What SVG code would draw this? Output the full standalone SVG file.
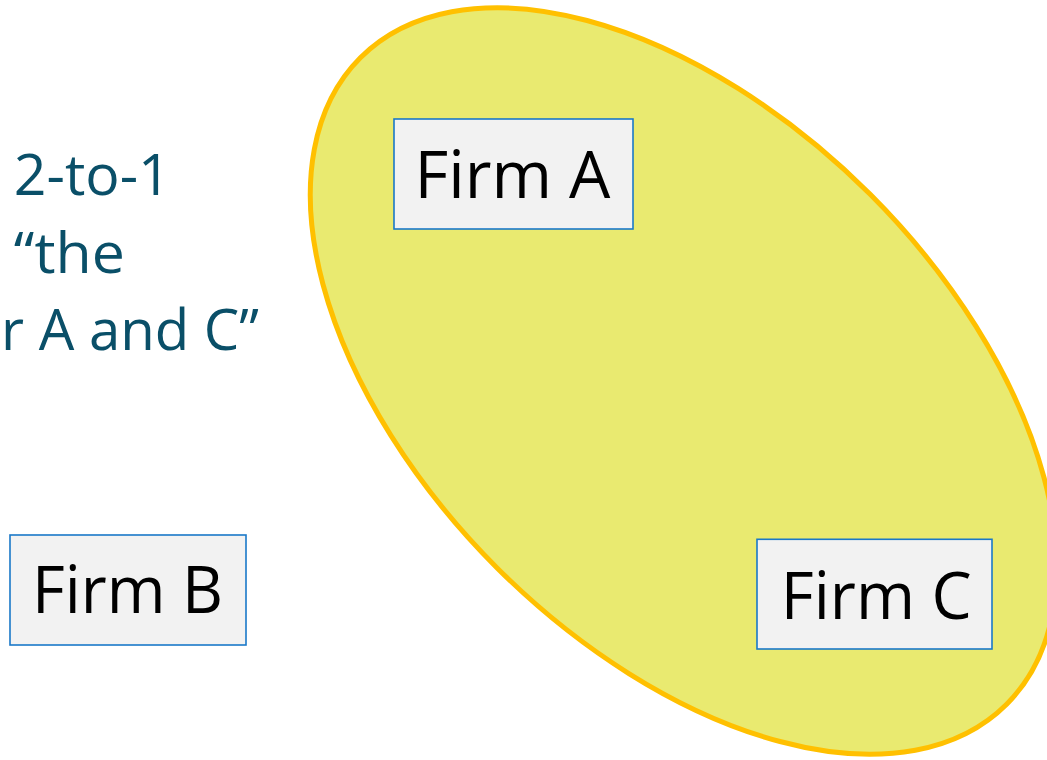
<svg xmlns="http://www.w3.org/2000/svg" width="1047" height="760" viewBox="0 0 1047 760">
  <style>
    .box { fill: #F2F2F2; stroke: #1A78C8; stroke-width: 1.6; }
    .lbl { font-family: "Open Sans", "Liberation Sans", sans-serif; font-size: 66px; fill: #000000; text-anchor: middle; }
    .note { font-family: "Open Sans", "Liberation Sans", sans-serif; font-size: 57px; fill: #0A4F68; }
  </style>
  <rect x="0" y="0" width="1047" height="760" fill="#FFFFFF"/>
  <g id="group-ellipse">
    <ellipse cx="683.5" cy="381" rx="457" ry="264" transform="rotate(45 683.5 381)" fill="#E9EA70" stroke="#FFC000" stroke-width="5"/>
  </g>
  <g id="note">
    <text class="note" x="92.3" y="195" text-anchor="middle" textLength="157" lengthAdjust="spacingAndGlyphs">2-to-1</text>
    <text class="note" x="69.3" y="272.7" text-anchor="middle" textLength="111" lengthAdjust="spacingAndGlyphs">“the</text>
    <text class="note" x="259" y="350" text-anchor="end" textLength="258" lengthAdjust="spacingAndGlyphs">r A and C”</text>
  </g>
  <g id="firm-a">
    <rect class="box" x="394" y="119" width="239" height="110"/>
    <text class="lbl" x="512.5" y="198.3" textLength="196" lengthAdjust="spacingAndGlyphs">Firm A</text>
  </g>
  <g id="firm-b">
    <rect class="box" x="10" y="535" width="236" height="110"/>
    <text class="lbl" x="127.5" y="613.3" textLength="191" lengthAdjust="spacingAndGlyphs">Firm B</text>
  </g>
  <g id="firm-c">
    <rect class="box" x="757" y="539.3" width="235" height="109.7"/>
    <text class="lbl" x="876.3" y="619.3" textLength="191" lengthAdjust="spacingAndGlyphs">Firm C</text>
  </g>
  <g id="connectors"></g>
</svg>
